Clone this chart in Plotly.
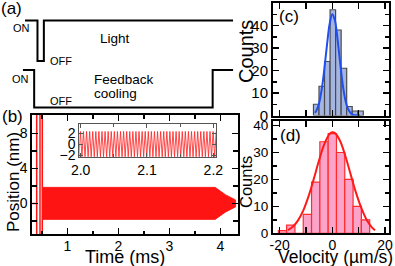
import numpy as np
import plotly.graph_objects as go

W, H = 395, 266
FONT = "Liberation Sans, Arial, sans-serif"

# ---------------- data ----------------
# (a) timing diagram: time (ms), level 1 = ON, 0 = OFF
light_t = [0.17, 0.415, 0.415, 0.54, 0.54, 4.25]
light_level = [1, 1, 0, 0, 1, 1]
fb_t = [0.13, 0.35, 0.35, 3.85, 3.85, 4.25]
fb_level = [1, 1, 0, 0, 1, 1]

# (b) position trace (ms, nm)
pre_t = [0.25, 0.40]
pre_pos = [0.0, 0.0]
spike_t = [0.400, 0.465, 0.510]
env_t = [0.515, 3.90, 4.10, 4.30]
env_amp = [1.83, 1.83, 1.0, 0.4]

# inset oscillation (2.0 - 2.2 ms)
inset_t_range = [1.995, 2.206]
inset_freq_khz = 215
inset_amp = 2.3

# (c) velocity histogram with feedback cooling
c_centers = [-6.1, -4.0, -1.9, 0.2, 2.3, 4.4, 6.5, 8.6, 10.7]
c_counts = [5, 13, 24, 47, 38, 21, 4, 2, 2]
c_binw = 2.1
c_fit_v = [-6.6, -6, -5, -4, -3, -2, -1, 0, 1, 2, 3, 4, 5, 6, 7, 8, 9, 10.5]
c_fit_n = [1.2, 2.3, 5.6, 11.7, 20.9, 31.6, 40.8, 45.0, 42.2, 33.7, 23.0, 13.3, 6.6, 2.8, 1.0, 0.3, 0.1, 0.0]

# (d) velocity histogram without cooling
d_centers = [-18.9, -15.75, -12.6, -9.45, -6.3, -3.15, 0.0, 3.15, 6.3, 9.45, 12.6]
d_counts = [1, 3, 0, 7, 19, 34, 37, 30, 20, 10, 5]
d_binw = 3.15
d_fit_v = [-16.8, -15, -13, -11, -9, -7, -5, -3, -1, 0, 1, 3, 5, 7, 9, 11, 13, 15, 16.2]
d_fit_n = [1.2, 2.4, 4.8, 8.5, 13.8, 20.3, 27.2, 33.2, 36.9, 37.5, 37.2, 34.2, 28.5, 21.7, 15.0, 9.4, 5.0, 2.2, 1.1]

# ---------------- helpers ----------------
def px_x(x):
    return x / W

def px_y(y):
    return 1 - y / H

fig = go.Figure()

# (a) traces
fig.add_trace(go.Scatter(x=light_t, y=light_level, mode="lines",
                         line=dict(color="black", width=2), xaxis="x5", yaxis="y5",
                         cliponaxis=False))
fig.add_trace(go.Scatter(x=fb_t, y=fb_level, mode="lines",
                         line=dict(color="black", width=2), xaxis="x5", yaxis="y6",
                         cliponaxis=False))

# (b) traces
band_x = list(env_t) + list(env_t[::-1])
band_y = list(env_amp) + [-a for a in env_amp[::-1]]
fig.add_trace(go.Scatter(x=band_x, y=band_y, mode="lines", fill="toself",
                         fillcolor="#ff1414", line=dict(color="#ff1414", width=0.8),
                         xaxis="x", yaxis="y"))
fig.add_trace(go.Scatter(x=pre_t, y=pre_pos, mode="lines",
                         line=dict(color="#ff1414", width=1.5), xaxis="x", yaxis="y"))
sx, sy = [], []
for t in spike_t:
    sx += [t, t, None]
    sy += [-30, 30, None]
fig.add_trace(go.Scatter(x=sx, y=sy, mode="lines",
                         line=dict(color="#ff1414", width=1.5), xaxis="x", yaxis="y"))

# inset
half = 1.0 / (2 * inset_freq_khz)
n = int((inset_t_range[1] - inset_t_range[0]) / half) + 1
it = inset_t_range[0] + half * np.arange(n)
iy = inset_amp * np.where(np.arange(n) % 2 == 0, 1, -1)
fig.add_trace(go.Scatter(x=it, y=iy, mode="lines",
                         line=dict(color="rgba(255,40,40,0.85)", width=1),
                         xaxis="x2", yaxis="y2"))

# (c)
fig.add_trace(go.Bar(x=c_centers, y=c_counts, width=c_binw,
                     marker=dict(color="#a3b5e0", line=dict(color="#4a4a4a", width=1.2)),
                     xaxis="x3", yaxis="y3"))
fig.add_trace(go.Scatter(x=c_fit_v, y=c_fit_n, mode="lines", line_shape="spline",
                         line=dict(color="#1f4ff0", width=2), xaxis="x3", yaxis="y3"))

# (d)
fig.add_trace(go.Bar(x=d_centers, y=d_counts, width=d_binw,
                     marker=dict(color="#fba3c8", line=dict(color="#ff2a2a", width=1.2)),
                     xaxis="x4", yaxis="y4"))
fig.add_trace(go.Scatter(x=d_fit_v, y=d_fit_n, mode="lines", line_shape="spline",
                         line=dict(color="#ff1a1a", width=2), xaxis="x4", yaxis="y4"))

frame = dict(showline=True, linecolor="black", linewidth=2, mirror="allticks",
             ticks="inside", tickcolor="black", showgrid=False, zeroline=False,
             automargin=False)

def tfont(s):
    return dict(family=FONT, size=s, color="black")

layout = dict(
    template="none",
    width=W, height=H, margin=dict(l=0, r=0, t=0, b=0, pad=0, autoexpand=False),
    paper_bgcolor="white", plot_bgcolor="white", showlegend=False,
    font=dict(family=FONT, color="black"),
    barmode="overlay",
    # (b)
    xaxis=dict(frame, domain=[px_x(32.3), px_x(238)], range=[0.314, 4.347],
               tickvals=[1, 2, 3, 4], ticklen=6, tickwidth=1.5, ticklabelstandoff=-2,
               minor=dict(dtick=0.5, tick0=0, ticklen=3.5, ticks="inside", tickcolor="black", tickwidth=1.5),
               tickfont=tfont(14)),
    yaxis=dict(frame, domain=[px_y(234), px_y(115)], range=[-3.5, 10.1],
               tickvals=[0, 4, 8], ticklen=6, tickwidth=1.5,
               minor=dict(dtick=2, tick0=0, ticklen=5, ticks="inside", tickcolor="black", tickwidth=1.5),
               tickfont=tfont(14)),
    # inset
    xaxis2=dict(showline=True, linecolor="#555", linewidth=1, mirror="allticks", automargin=False,
                ticks="inside", tickcolor="#555", ticklen=4, showgrid=False, zeroline=False,
                domain=[px_x(79.3), px_x(216)], range=[1.998, 2.204],
                tickvals=[2.0, 2.1, 2.2], ticktext=["2.0", "2.1", "2.2"],
                minor=dict(dtick=0.05, tick0=2.0, ticklen=3, ticks="inside", tickcolor="#555"),
                tickfont=tfont(14), anchor="y2"),
    yaxis2=dict(showline=True, linecolor="#555", linewidth=1, mirror="allticks", automargin=False,
                ticks="inside", tickcolor="#555", ticklen=4, showgrid=False, zeroline=False,
                domain=[px_y(157), px_y(123.5)], range=[-2.35, 3.75],
                tickvals=[-2, 0, 2], tickfont=tfont(14), anchor="x2"),
    # (c)
    xaxis3=dict(frame, domain=[px_x(273), px_x(389)], range=[-22.5, 21.5],
                tickvals=[-20, 0, 20], showticklabels=False, ticklen=6, tickwidth=1.5,
                minor=dict(dtick=10, tick0=0, ticklen=6, ticks="inside", tickcolor="black", tickwidth=1.5),
                anchor="y3"),
    yaxis3=dict(frame, domain=[px_y(115.5), px_y(3)], range=[0, 50],
                tickvals=[0, 10, 20, 30, 40], ticklen=6, tickwidth=1.5,
                minor=dict(dtick=5, tick0=0, ticklen=4, ticks="inside", tickcolor="black", tickwidth=1.5),
                tickfont=tfont(15), anchor="x3"),
    # (d)
    xaxis4=dict(frame, domain=[px_x(273), px_x(389)], range=[-22.5, 21.5],
                tickvals=[-20, 0, 20], ticktext=["-20", "0", "20"], ticklen=6, tickwidth=1.5,
                ticklabelstandoff=-2,
                minor=dict(dtick=10, tick0=0, ticklen=6, ticks="inside", tickcolor="black", tickwidth=1.5),
                tickfont=tfont(14), anchor="y4"),
    yaxis4=dict(frame, domain=[px_y(233.3), px_y(121)], range=[0, 41.7],
                tickvals=[0, 10, 20, 30, 40], ticklen=6, tickwidth=1.5,
                minor=dict(dtick=5, tick0=0, ticklen=4, ticks="inside", tickcolor="black", tickwidth=1.5),
                tickfont=tfont(13.5), anchor="x4"),
    # (a) hidden axes
    xaxis5=dict(visible=False, domain=[0, px_x(240)], range=[-0.32, 4.386], anchor="y5", automargin=False),
    yaxis5=dict(visible=False, domain=[px_y(66), px_y(0)], range=[-0.123, 1.506], anchor="x5", automargin=False),
    yaxis6=dict(visible=False, domain=[px_y(115), px_y(66)], range=[-0.2, 1.107], anchor="x5", automargin=False),
)
fig.update_layout(**layout)

def ann(text, x, y, size, angle=0, xanchor="center"):
    fig.add_annotation(text=text, x=px_x(x), y=px_y(y), xref="paper", yref="paper",
                       showarrow=False, font=dict(family=FONT, size=size, color="black"),
                       textangle=angle, xanchor=xanchor, yanchor="middle")

ann("(a)", 11, 8, 17)
ann("(b)", 12, 116, 17)
ann("(c)", 289, 16, 17)
ann("(d)", 290, 135.5, 17)
ann("ON", 21, 27.5, 11)
ann("OFF", 61, 61, 11)
ann("Light", 115, 39, 13.5)
ann("ON", 20.5, 79, 11)
ann("OFF", 61, 101, 11)
ann("Feedback", 92, 79, 13.5, xanchor="left")
ann("cooling", 92, 93, 13.5, xanchor="left")
ann("Position (nm)", 13.5, 182.5, 17, angle=-90)
ann("Time (ms)", 125.5, 256.5, 18)
ann("Counts", 246, 52, 20, angle=-90)
ann("Counts", 245.5, 182.5, 16.5, angle=-90)
ann("Velocity (µm/s)", 335, 256.5, 17.5)

fig.write_html("out.html",
               config={"displayModeBar": False, "staticPlot": True},
               post_script="document.body.style.margin='0px';document.body.style.padding='0px';")
